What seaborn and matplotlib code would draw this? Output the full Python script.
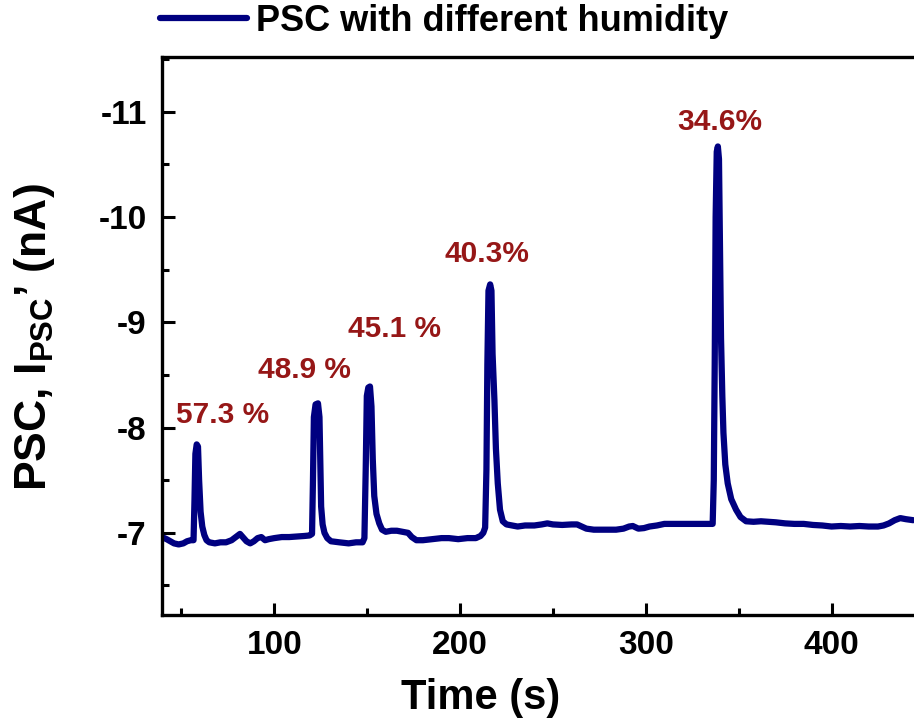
import pandas as pd
import matplotlib
matplotlib.use('Agg')
import matplotlib.pyplot as plt
from matplotlib.ticker import MultipleLocator
import seaborn as sns

# trace: time (s) and current (nA)
time_s = [39.5, 42, 44, 46, 48.5, 51, 53, 55, 56.5,
          57.0, 57.5, 58.2, 58.9, 59.5, 60.3, 61.2, 62.3, 63.5, 65, 68, 71, 74, 77, 80, 81.5, 83,
          85, 87, 89, 91, 93, 95, 97, 100, 104, 108, 112, 116, 119, 120.3,
          120.8, 121.3, 122.2, 123.5, 124.3, 124.8, 125.2, 126, 127, 128.5, 130.5, 135, 140, 144,
          147.5, 148.5,
          149.2, 149.8, 150.6, 151.5, 152.3, 153, 153.8, 155, 156.5, 158, 160, 163, 166, 169, 172,
          174, 176.5, 180, 185, 190, 194, 199, 204, 208.5, 211, 212.5, 213.5,
          214.2, 214.7, 215.3, 216.2, 216.9, 217.5, 218.5, 219.3, 220.3, 221.5, 223, 225, 228, 231,
          235, 240, 244, 247, 250, 255, 260, 263, 265.5, 268, 272, 276, 280, 284, 288, 291, 293,
          296, 299, 302, 306, 310, 315, 320, 325, 330, 336.0,
          336.6, 337.1, 337.6, 338.2, 338.8, 339.4, 339.9, 340.5, 341.2, 341.8, 342.8, 344.1, 346,
          348.6, 351, 354, 358, 362, 366, 370, 375, 380, 385, 390, 395, 400, 405, 410, 415, 420,
          425, 428, 431, 434, 437, 440, 444]
current_na = [-6.96, -6.94, -6.92, -6.90, -6.89, -6.90, -6.92, -6.93, -6.93,
              -7.30, -7.75, -7.84, -7.82, -7.50, -7.20, -7.06, -6.98, -6.93, -6.91, -6.90, -6.91,
              -6.91, -6.93, -6.97, -6.99, -6.96,
              -6.92, -6.90, -6.92, -6.95, -6.96, -6.93, -6.94, -6.95, -6.96, -6.96, -6.965, -6.97,
              -6.975, -6.99,
              -7.50, -8.10, -8.22, -8.23, -8.10, -7.60, -7.25, -7.08, -7.00, -6.95, -6.92, -6.91,
              -6.90, -6.91, -6.91, -6.95,
              -7.60, -8.30, -8.38, -8.39, -8.20, -7.70, -7.35, -7.18, -7.09, -7.03, -7.01, -7.02,
              -7.02, -7.01, -7.00, -6.96, -6.93, -6.93, -6.94, -6.95, -6.95, -6.94, -6.95, -6.95,
              -6.97, -7.00, -7.05,
              -7.60, -8.60, -9.30, -9.36, -9.30, -8.70, -8.26, -7.80, -7.47, -7.22, -7.11, -7.08,
              -7.07, -7.06, -7.07, -7.07, -7.08, -7.09, -7.08, -7.075, -7.08, -7.08, -7.06, -7.04,
              -7.03, -7.03, -7.03, -7.03, -7.04, -7.06, -7.065, -7.04, -7.045, -7.06, -7.07,
              -7.085, -7.085, -7.085, -7.085, -7.085, -7.085,
              -7.50, -8.60, -10.00, -10.62, -10.67, -10.55, -9.80, -8.85, -8.30, -7.95, -7.65,
              -7.47, -7.32, -7.22, -7.15, -7.11, -7.105, -7.11, -7.105, -7.10, -7.09, -7.085,
              -7.085, -7.075, -7.07, -7.06, -7.065, -7.06, -7.065, -7.06, -7.06, -7.07, -7.09,
              -7.12, -7.14, -7.13, -7.12]

# humidity labels and where they sit (text baseline)
humidity_labels = ['57.3 %', '48.9 %', '45.1 %', '40.3%', '34.6%']
label_x = [72.0, 116.4, 164.6, 214.7, 339.6]
label_y = [-8.045, -8.47, -8.864, -9.576, -10.827]

df = pd.DataFrame({'Time': time_s, 'Current': current_na})

sns.set_theme(style='ticks')
plt.rcParams['font.family'] = ['Liberation Sans', 'DejaVu Sans']
plt.rcParams['font.weight'] = 'bold'
plt.rcParams['axes.unicode_minus'] = False
plt.rcParams['text.color'] = 'black'
plt.rcParams['axes.labelcolor'] = 'black'
plt.rcParams['mathtext.fontset'] = 'custom'
plt.rcParams['mathtext.rm'] = 'Liberation Sans'
plt.rcParams['mathtext.bf'] = 'Liberation Sans:bold'

fig = plt.figure(figsize=(9.14, 7.24), dpi=100)
ax = fig.add_axes([0.1772, 0.1506, 0.8228, 0.7707])

sns.lineplot(data=df, x='Time', y='Current', ax=ax, color='#000080', linewidth=4.5,
             estimator=None, sort=False, label='PSC with different humidity')

for txt, x, y in zip(humidity_labels, label_x, label_y):
    ax.text(x, y, txt, color='#961717', fontsize=21.5, fontweight='bold',
            ha='center', va='baseline')

ax.set_xlim(39.5, 444.4)
ax.set_ylim(-6.22, -11.52)
ax.xaxis.set_major_locator(MultipleLocator(100))
ax.xaxis.set_minor_locator(MultipleLocator(50))
ax.yaxis.set_major_locator(MultipleLocator(1))
ax.yaxis.set_minor_locator(MultipleLocator(0.5))
ax.tick_params(which='both', direction='in', width=2.2, labelsize=24, pad=11,
               top=False, right=False, colors='black')
ax.tick_params(which='major', length=9)
ax.tick_params(which='minor', length=5)
for lab in ax.get_xticklabels() + ax.get_yticklabels():
    lab.set_fontweight('bold')
for side in ['left', 'bottom', 'top']:
    ax.spines[side].set_linewidth(2.4)
    ax.spines[side].set_color('black')
ax.spines['right'].set_visible(False)

ax.set_xlabel('Time (s)', fontsize=30, fontweight='bold', color='black')
ax.xaxis.set_label_coords(0.424, -0.113)
ax.set_ylabel('PSC, I$_{\\mathrm{PSC}}$\u2019 (nA)', fontsize=32, fontweight='bold', color='black')
ax.yaxis.set_label_coords(-0.14, 0.498)

handles, labels = ax.get_legend_handles_labels()
ax.get_legend().remove()
leg = fig.legend(handles, labels, loc='upper left', bbox_to_anchor=(0.175, 0.995),
                 frameon=False, handlelength=2.4, handletextpad=0.25,
                 borderpad=0, borderaxespad=0, prop={'weight': 'bold', 'size': 26})
for t in leg.get_texts():
    t.set_color('black')

fig.savefig('out.png', dpi=100)
